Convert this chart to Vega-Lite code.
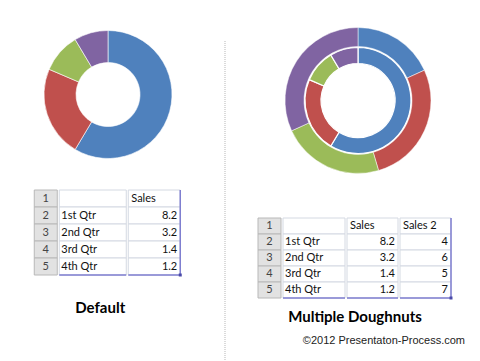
{
  "$schema": "https://vega.github.io/schema/vega-lite/v6.json",
  "padding": 0,
  "background": "white",
  "config": {"view": {"stroke": null}},
  "datasets": {
    "rows": [{"row": 1}, {"row": 2}, {"row": 3}, {"row": 4}, {"row": 5}],
    "q": [
      {"row": 2, "qtr": "1st Qtr", "sales": 8.2, "sales2": 4},
      {"row": 3, "qtr": "2nd Qtr", "sales": 3.2, "sales2": 6},
      {"row": 4, "qtr": "3rd Qtr", "sales": 1.4, "sales2": 5},
      {"row": 5, "qtr": "4th Qtr", "sales": 1.2, "sales2": 7}
    ],
    "head": [{"row": 1, "sales": "Sales", "sales2": "Sales 2"}]
  },
  "spacing": 31,
  "hconcat": [
    {
      "spacing": 8,
      "hconcat": [
        {
          "spacing": 0,
          "center": true,
          "vconcat": [
            {
              "width": 216,
              "height": 189,
              "data": {"name": "q"},
              "mark": {"type": "arc", "innerRadius": 32, "outerRadius": 64, "stroke": "#ffffff", "strokeWidth": 0.6},
              "encoding": {
                "theta": {"field": "sales", "type": "quantitative", "stack": true},
                "order": {"field": "row", "type": "quantitative"},
                "color": {"field": "qtr", "type": "nominal", "legend": null,
                  "scale": {"domain": ["1st Qtr", "2nd Qtr", "3rd Qtr", "4th Qtr"], "range": ["#4F81BD", "#C0504D", "#9BBB59", "#8064A2"]}}
              }
            },
            {
              "spacing": 0,
              "title": {"text": "Default", "orient": "bottom", "anchor": "middle", "font": "Lato", "fontSize": 15, "fontWeight": "bold", "color": "#000000", "offset": 24, "dx": -7.5},
              "hconcat": [
                {
                  "width": 23, "height": 85,
                  "data": {"name": "rows"},
                  "encoding": {"y": {"field": "row", "type": "ordinal", "axis": null, "scale": {"domain": [1, 2, 3, 4, 5], "paddingInner": 0, "paddingOuter": 0}}},
                  "layer": [
                    {"mark": {"type": "rect", "fill": "#e2e2e2", "stroke": "#b8b8b8", "strokeWidth": 1}},
                    {"mark": {"type": "text", "font": "Lato", "fontSize": 11, "color": "#444444"}, "encoding": {"text": {"field": "row", "type": "ordinal"}}}
                  ]
                },
                {
                  "width": 67, "height": 85,
                  "encoding": {"y": {"field": "row", "type": "ordinal", "axis": null, "scale": {"domain": [1, 2, 3, 4, 5], "paddingInner": 0, "paddingOuter": 0}}},
                  "layer": [
                    {"data": {"name": "rows"}, "mark": {"type": "rect", "fill": "#ffffff", "stroke": "#d4d9e2", "strokeWidth": 1}},
                    {"data": {"name": "q"}, "mark": {"type": "text", "align": "left", "dx": 2, "font": "Lato", "fontSize": 11, "color": "#111111"},
                      "encoding": {"x": {"datum": 0, "type": "quantitative", "axis": null, "scale": {"domain": [0, 1]}}, "text": {"field": "qtr", "type": "nominal"}}},
                    {"data": {"name": "rows"}, "transform": [{"filter": "datum.row == 5"}], "mark": {"type": "rule", "color": "#7f7fd0", "strokeWidth": 1.5},
                      "encoding": {"y": {"field": "row", "type": "ordinal", "bandPosition": 1}}}
                  ]
                },
                {
                  "width": 52, "height": 85,
                  "layer": [
                    {"data": {"name": "rows"}, "mark": {"type": "rect", "fill": "#ffffff", "stroke": "#d4d9e2", "strokeWidth": 1},
                      "encoding": {"y": {"field": "row", "type": "ordinal", "axis": null, "scale": {"domain": [1, 2, 3, 4, 5], "paddingInner": 0, "paddingOuter": 0}}}},
                    {"data": {"name": "head"}, "mark": {"type": "text", "align": "left", "dx": 3, "font": "Lato", "fontSize": 11, "color": "#111111"},
                      "encoding": {"y": {"field": "row", "type": "ordinal"}, "x": {"datum": 0, "type": "quantitative", "axis": null, "scale": {"domain": [0, 1]}}, "text": {"field": "sales", "type": "nominal"}}},
                    {"data": {"name": "q"}, "mark": {"type": "text", "align": "right", "dx": -3, "font": "Lato", "fontSize": 11, "color": "#111111"},
                      "encoding": {"y": {"field": "row", "type": "ordinal"}, "x": {"datum": 1, "type": "quantitative"}, "text": {"field": "sales", "type": "nominal"}}},
                    {"data": {"name": "rows"}, "transform": [{"filter": "datum.row == 5"}], "mark": {"type": "rule", "color": "#7f7fd0", "strokeWidth": 1.5},
                      "encoding": {"y": {"field": "row", "type": "ordinal", "bandPosition": 1}}},
                    {"data": {"name": "head"}, "mark": {"type": "rule", "color": "#7f7fd0", "strokeWidth": 1.5},
                      "encoding": {"x": {"datum": 1, "type": "quantitative"}}},
                    {"data": {"name": "head"}, "mark": {"type": "square", "filled": true, "color": "#4a4aa8", "size": 9, "opacity": 1},
                      "encoding": {"x": {"datum": 1, "type": "quantitative"}, "y": {"datum": 5, "type": "ordinal", "bandPosition": 1}}}
                  ]
                }
              ]
            }
          ]
        },
        {
          "spacing": 20,
          "vconcat": [
            {"width": 1, "height": 0, "data": {"values": []}, "mark": "point"},
            {"width": 1, "height": 332, "data": {"values": [{}]},
              "mark": {"type": "rule", "color": "#c4c4c4", "strokeDash": [1, 1], "strokeWidth": 1.2},
              "encoding": {"x": {"value": 0}}}
          ]
        }
      ]
    },
    {
      "spacing": 16,
      "title": {"text": "©2012 Presentaton-Process.com", "orient": "bottom", "anchor": "end", "font": "Liberation Sans", "fontSize": 11, "fontWeight": "normal", "color": "#222222", "offset": 10, "dx": 7},
      "vconcat": [
        {
          "width": 200,
          "height": 201,
          "data": {"name": "q"},
          "encoding": {
            "order": {"field": "row", "type": "quantitative"},
            "color": {"field": "qtr", "type": "nominal", "legend": null,
              "scale": {"domain": ["1st Qtr", "2nd Qtr", "3rd Qtr", "4th Qtr"], "range": ["#4F81BD", "#C0504D", "#9BBB59", "#8064A2"]}}
          },
          "layer": [
            {"mark": {"type": "arc", "innerRadius": 54, "outerRadius": 73, "stroke": "#ffffff", "strokeWidth": 0.5},
              "encoding": {"theta": {"field": "sales2", "type": "quantitative", "stack": true}}},
            {"mark": {"type": "arc", "innerRadius": 37, "outerRadius": 53, "stroke": "#ffffff", "strokeWidth": 1.2},
              "encoding": {"theta": {"field": "sales", "type": "quantitative", "stack": true}}}
          ],
          "resolve": {"scale": {"theta": "independent"}}
        },
        {
          "spacing": 0,
          "title": {"text": "Multiple Doughnuts", "orient": "bottom", "anchor": "middle", "font": "Lato", "fontSize": 15, "fontWeight": "bold", "color": "#000000", "offset": 10},
          "hconcat": [
            {
              "width": 23, "height": 80,
              "data": {"name": "rows"},
              "encoding": {"y": {"field": "row", "type": "ordinal", "axis": null, "scale": {"domain": [1, 2, 3, 4, 5], "paddingInner": 0, "paddingOuter": 0}}},
              "layer": [
                {"mark": {"type": "rect", "fill": "#e2e2e2", "stroke": "#b8b8b8", "strokeWidth": 1}},
                {"mark": {"type": "text", "font": "Lato", "fontSize": 11, "color": "#444444"}, "encoding": {"text": {"field": "row", "type": "ordinal"}}}
              ]
            },
            {
              "width": 62, "height": 80,
              "encoding": {"y": {"field": "row", "type": "ordinal", "axis": null, "scale": {"domain": [1, 2, 3, 4, 5], "paddingInner": 0, "paddingOuter": 0}}},
              "layer": [
                {"data": {"name": "rows"}, "mark": {"type": "rect", "fill": "#ffffff", "stroke": "#d4d9e2", "strokeWidth": 1}},
                {"data": {"name": "q"}, "mark": {"type": "text", "align": "left", "dx": 2, "font": "Lato", "fontSize": 11, "color": "#111111"},
                  "encoding": {"x": {"datum": 0, "type": "quantitative", "axis": null, "scale": {"domain": [0, 1]}}, "text": {"field": "qtr", "type": "nominal"}}},
                {"data": {"name": "rows"}, "transform": [{"filter": "datum.row == 5"}], "mark": {"type": "rule", "color": "#7f7fd0", "strokeWidth": 1.5},
                  "encoding": {"y": {"field": "row", "type": "ordinal", "bandPosition": 1}}}
              ]
            },
            {
              "width": 51, "height": 80,
              "encoding": {"y": {"field": "row", "type": "ordinal", "axis": null, "scale": {"domain": [1, 2, 3, 4, 5], "paddingInner": 0, "paddingOuter": 0}}},
              "layer": [
                {"data": {"name": "rows"}, "mark": {"type": "rect", "fill": "#ffffff", "stroke": "#d4d9e2", "strokeWidth": 1}},
                {"data": {"name": "head"}, "mark": {"type": "text", "align": "left", "dx": 3, "font": "Lato", "fontSize": 11, "color": "#111111"},
                  "encoding": {"x": {"datum": 0, "type": "quantitative", "axis": null, "scale": {"domain": [0, 1]}}, "text": {"field": "sales", "type": "nominal"}}},
                {"data": {"name": "q"}, "mark": {"type": "text", "align": "right", "dx": -3, "font": "Lato", "fontSize": 11, "color": "#111111"},
                  "encoding": {"x": {"datum": 1, "type": "quantitative"}, "text": {"field": "sales", "type": "nominal"}}},
                {"data": {"name": "rows"}, "transform": [{"filter": "datum.row == 5"}], "mark": {"type": "rule", "color": "#7f7fd0", "strokeWidth": 1.5},
                  "encoding": {"y": {"field": "row", "type": "ordinal", "bandPosition": 1}}}
              ]
            },
            {
              "width": 51, "height": 80,
              "layer": [
                {"data": {"name": "rows"}, "mark": {"type": "rect", "fill": "#ffffff", "stroke": "#d4d9e2", "strokeWidth": 1},
                  "encoding": {"y": {"field": "row", "type": "ordinal", "axis": null, "scale": {"domain": [1, 2, 3, 4, 5], "paddingInner": 0, "paddingOuter": 0}}}},
                {"data": {"name": "head"}, "mark": {"type": "text", "align": "left", "dx": 3, "font": "Lato", "fontSize": 11, "color": "#111111"},
                  "encoding": {"y": {"field": "row", "type": "ordinal"}, "x": {"datum": 0, "type": "quantitative", "axis": null, "scale": {"domain": [0, 1]}}, "text": {"field": "sales2", "type": "nominal"}}},
                {"data": {"name": "q"}, "mark": {"type": "text", "align": "right", "dx": -3, "font": "Lato", "fontSize": 11, "color": "#111111"},
                  "encoding": {"y": {"field": "row", "type": "ordinal"}, "x": {"datum": 1, "type": "quantitative"}, "text": {"field": "sales2", "type": "nominal"}}},
                {"data": {"name": "rows"}, "transform": [{"filter": "datum.row == 5"}], "mark": {"type": "rule", "color": "#7f7fd0", "strokeWidth": 1.5},
                  "encoding": {"y": {"field": "row", "type": "ordinal", "bandPosition": 1}}},
                {"data": {"name": "head"}, "mark": {"type": "rule", "color": "#7f7fd0", "strokeWidth": 1.5},
                  "encoding": {"x": {"datum": 1, "type": "quantitative"}}},
                {"data": {"name": "head"}, "mark": {"type": "square", "filled": true, "color": "#4a4aa8", "size": 9, "opacity": 1},
                  "encoding": {"x": {"datum": 1, "type": "quantitative"}, "y": {"datum": 5, "type": "ordinal", "bandPosition": 1}}}
              ]
            }
          ]
        }
      ]
    }
  ]
}
